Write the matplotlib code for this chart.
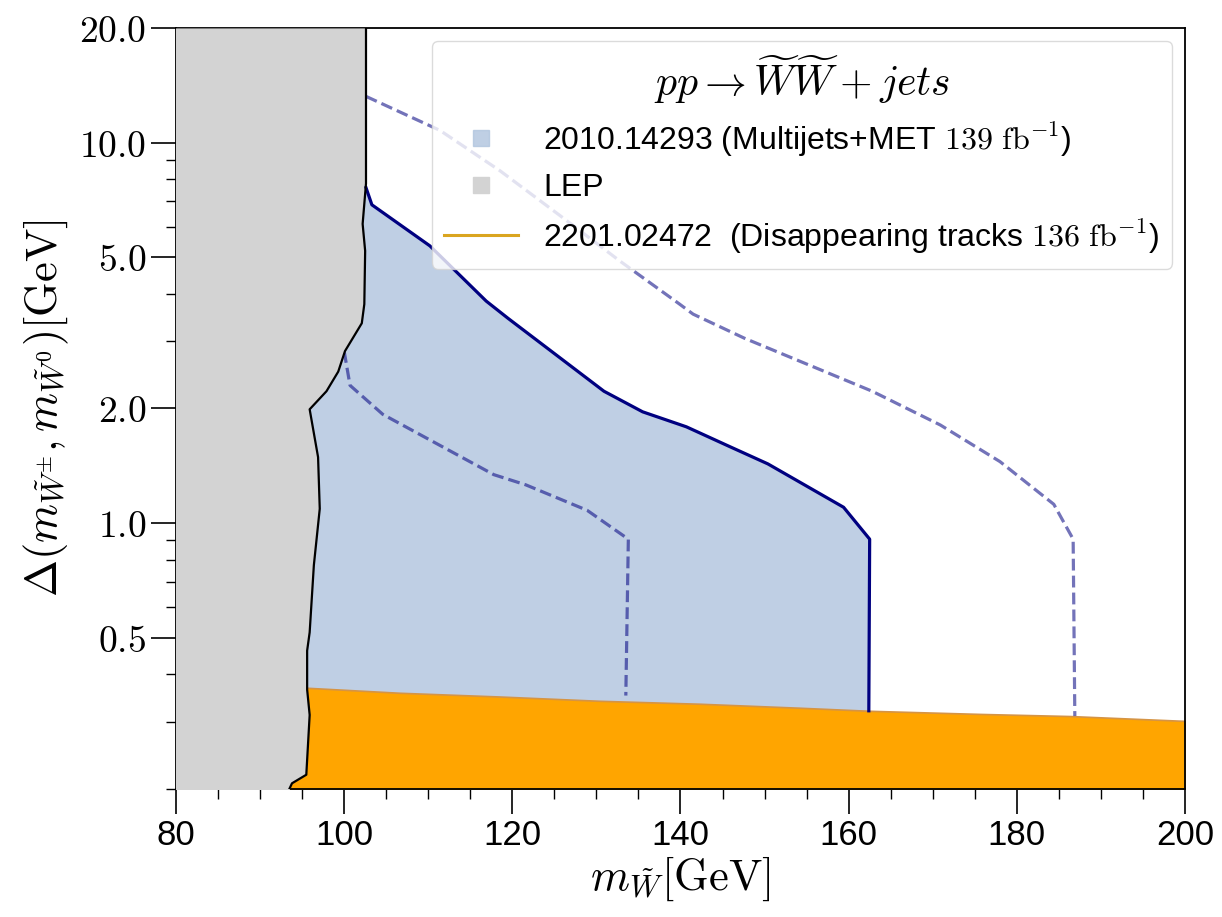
import matplotlib
matplotlib.use("AGG")
import matplotlib.pyplot as plt
from matplotlib.lines import Line2D

plt.rcParams['mathtext.fontset'] = 'cm'
plt.rcParams['font.family'] = ['Liberation Sans', 'DejaVu Sans']

# LEP exclusion boundary (x in GeV, y = mass splitting in GeV)
lep_x = [102.6, 102.6, 102.2, 102.5, 102.4, 102.1, 100.1, 99.3, 97.9, 95.9,
         96.9, 97.1, 96.4, 95.9, 95.6, 95.6, 95.9, 95.5, 93.8, 93.3]
lep_y = [20.0, 7.80, 6.11, 5.19, 3.76, 3.35, 2.83, 2.50, 2.22, 1.99,
         1.49, 1.09, 0.775, 0.516, 0.462, 0.365, 0.313, 0.218, 0.207, 0.196]

# 2010.14293 observed limit
obs_x = [102.6, 103.3, 110.2, 116.9, 119.5, 130.9, 135.5, 140.7, 145.8, 150.4,
         159.4, 162.5, 162.4]
obs_y = [7.61, 6.86, 5.35, 3.83, 3.45, 2.22, 1.96, 1.79, 1.59, 1.43,
         1.10, 0.907, 0.321]

# expected +/- 1 sigma (dashed)
lo_x = [100.0, 100.7, 104.6, 117.8, 121.6, 128.9, 133.8, 133.5]
lo_y = [2.83, 2.30, 1.93, 1.34, 1.26, 1.08, 0.907, 0.352]
hi_x = [102.6, 111.4, 118.5, 125.7, 132.8, 139.9, 141.5, 147.6, 162.8, 170.9,
        178.0, 184.4, 186.7, 186.9]
hi_y = [13.22, 10.76, 8.44, 6.42, 4.88, 3.76, 3.54, 3.06, 2.22, 1.81,
        1.45, 1.12, 0.907, 0.311]

# 2201.02472 disappearing tracks
dt_x = [88.0, 95.6, 106.6, 118.5, 130.4, 142.3, 154.2, 162.5, 175.6, 186.3, 200.0]
dt_y = [0.372, 0.369, 0.358, 0.350, 0.341, 0.335, 0.327, 0.321, 0.315, 0.311, 0.302]

yticks = [0.5, 1.0, 2.0, 5.0, 10.0, 20.0]
ytick_labels = [r'$0.5$', r'$1.0$', r'$2.0$', r'$5.0$', r'$10.0$', r'$20.0$']
xticks = [80, 100, 120, 140, 160, 180, 200]

fig = plt.figure(figsize=(12.22, 9.17), dpi=100)
ax = fig.add_axes([0.144, 0.1396, 0.8257, 0.8299])

# filled regions
ax.fill(obs_x + [obs_x[-1], 88.0, 88.0], obs_y + [0.2, 0.2, obs_y[0]],
        color='lightsteelblue', alpha=0.8, lw=0, zorder=1)
ax.fill_between(dt_x, 0.15, dt_y, facecolor='orange', edgecolor='#d59445',
                lw=1.2, zorder=2)
ax.fill_betweenx(lep_y, 78, lep_x, color='lightgray', lw=0, zorder=3)

# lines
ax.plot(lo_x, lo_y, '--', color='navy', alpha=0.55, lw=2.3, zorder=2.5)
ax.plot(hi_x, hi_y, '--', color='navy', alpha=0.55, lw=2.3, zorder=2.5)
ax.plot(obs_x, obs_y, color='navy', lw=2.3, zorder=4)
ax.plot(lep_x, lep_y, color='black', lw=1.6, zorder=5)

ax.set_yscale('log')
ax.set_xlim(80, 200)
ax.set_ylim(0.2, 20)
ax.set_xticks(xticks)
ax.set_xticks(range(80, 201, 5), minor=True)
ax.set_yticks(yticks)
ax.set_yticklabels(ytick_labels)
ax.tick_params(axis='both', which='major', length=18, width=1.2, labelsize=25)
ax.tick_params(axis='y', which='major', labelsize=27)
ax.tick_params(axis='both', which='minor', length=7, width=1.0)
ax.tick_params(axis='y', which='minor', labelleft=False)
for s in ax.spines.values():
    s.set_linewidth(1.3)

ax.set_xlabel(r'$m_{\tilde{W}} [\mathrm{GeV}]$', fontsize=32, labelpad=2)
ax.set_ylabel(r'$\Delta(m_{\tilde{W}^{\pm}}, m_{\tilde{W}^{0}}) [\mathrm{GeV}]$',
              fontsize=32, labelpad=6)

handles = [
    Line2D([], [], marker='s', ls='none', color='lightsteelblue', alpha=0.8, markersize=12),
    Line2D([], [], marker='s', ls='none', color='lightgray', markersize=12),
    Line2D([], [], color='goldenrod', lw=2.2),
]
labels = [
    r'2010.14293 (Multijets+MET $139\ \mathrm{fb}^{-1}$)',
    r'LEP',
    r'2201.02472  (Disappearing tracks $136\ \mathrm{fb}^{-1}$)',
]
leg = ax.legend(handles, labels, loc='upper right', fontsize=23,
                title=r'$pp \to \widetilde{W}\widetilde{W} + jets$',
                title_fontsize=30, framealpha=0.8, edgecolor='lightgray',
                handlelength=2.3, handletextpad=0.8, labelspacing=0.45,
                borderaxespad=0.4, borderpad=0.4, fancybox=True)
leg.set_zorder(10)

fig.savefig('out.png', dpi=100)
